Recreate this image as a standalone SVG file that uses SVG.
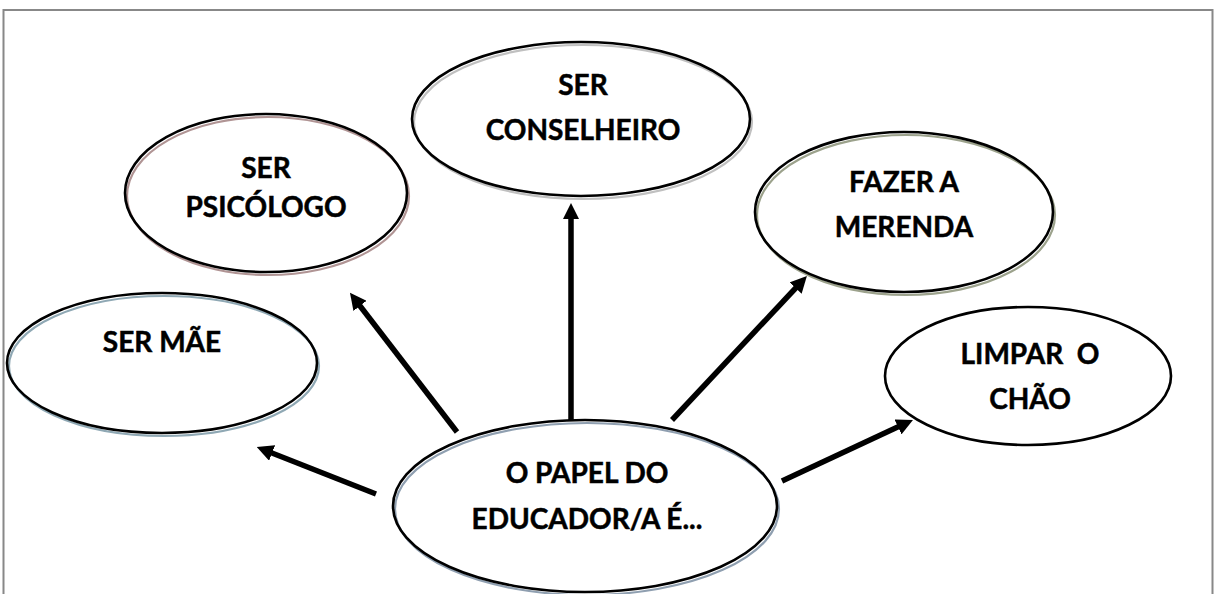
<svg xmlns="http://www.w3.org/2000/svg" width="1216" height="594" viewBox="0 0 1216 594">
<style>
.bg{fill:#ffffff;stroke:none}
.sh{fill:none;stroke-width:2.2}
.ol{fill:none;stroke:#000;stroke-width:2.6}
.t{font-family:Lato,"Liberation Sans",sans-serif;font-weight:bold;font-size:28px;fill:#000;stroke:#000;stroke-width:0.5;text-anchor:middle}
.ar{stroke:#000;stroke-width:5.5;fill:none;marker-end:url(#ah)}
.frame{stroke:#888;stroke-width:2;fill:none}
</style>
<defs>
<marker id="ah" viewBox="0 0 10 10" refX="3" refY="5" markerWidth="3" markerHeight="3" orient="auto" markerUnits="strokeWidth">
<path d="M0,0 L10,5 L0,10 z" fill="#000"/>
</marker>
</defs>
<rect width="1216" height="594" fill="#fff"/>
<path class="frame" d="M3.5,594 V10 H1212.5 V594"/>

<g id="connectors">
<line class="ar" x1="376" y1="494" x2="267.5" y2="451.2"/>
<line class="ar" x1="457" y1="432" x2="357" y2="302"/>
<line class="ar" x1="571" y1="420" x2="571" y2="214.5"/>
<line class="ar" x1="672" y1="420" x2="799" y2="284.5"/>
<line class="ar" x1="782" y1="481" x2="902.5" y2="424.8"/>
</g>

<g id="ser-conselheiro">
<ellipse class="bg" cx="581" cy="119" rx="169" ry="77"/>
<ellipse class="sh" stroke="#c0c0c0" cx="583" cy="122" rx="169" ry="77"/>
<ellipse class="ol" cx="581" cy="119" rx="169" ry="77"/>
<text class="t" x="583" y="95">SER</text>
<text class="t" x="583" y="140">CONSELHEIRO</text>
</g>

<g id="ser-psicologo">
<ellipse class="bg" cx="266" cy="193" rx="141" ry="79"/>
<ellipse class="sh" stroke="#b09494" cx="268" cy="196" rx="141" ry="79"/>
<ellipse class="ol" cx="266" cy="193" rx="141" ry="79"/>
<text class="t" x="266" y="178">SER</text>
<text class="t" x="266" y="217">PSICÓLOGO</text>
</g>

<g id="ser-mae">
<ellipse class="bg" cx="162" cy="363" rx="155" ry="70"/>
<ellipse class="sh" stroke="#8fa8b4" cx="164" cy="366" rx="155" ry="70"/>
<ellipse class="ol" cx="162" cy="363" rx="155" ry="70"/>
<text class="t" x="162" y="352">SER MÃE</text>
</g>

<g id="fazer-merenda">
<ellipse class="bg" cx="904" cy="212" rx="149" ry="80"/>
<ellipse class="sh" stroke="#9ca28c" cx="906" cy="215" rx="149" ry="80"/>
<ellipse class="ol" cx="904" cy="212" rx="149" ry="80"/>
<text class="t" x="904" y="192">FAZER A</text>
<text class="t" x="904" y="237">MERENDA</text>
</g>

<g id="limpar-chao">
<ellipse class="bg" cx="1028" cy="376" rx="143" ry="69"/>
<ellipse class="ol" cx="1028" cy="376" rx="143" ry="69"/>
<text class="t" x="1030" y="364" xml:space="preserve">LIMPAR  O</text>
<text class="t" x="1030" y="409">CHÃO</text>
</g>

<g id="papel-educador">
<ellipse class="bg" cx="585" cy="506" rx="192" ry="86"/>
<ellipse class="sh" stroke="#8f9fb0" cx="587" cy="509" rx="192" ry="86"/>
<ellipse class="ol" cx="585" cy="506" rx="192" ry="86"/>
<text class="t" x="587" y="483">O PAPEL DO</text>
<text class="t" x="587" y="529">EDUCADOR/A É...</text>
</g>
</svg>
